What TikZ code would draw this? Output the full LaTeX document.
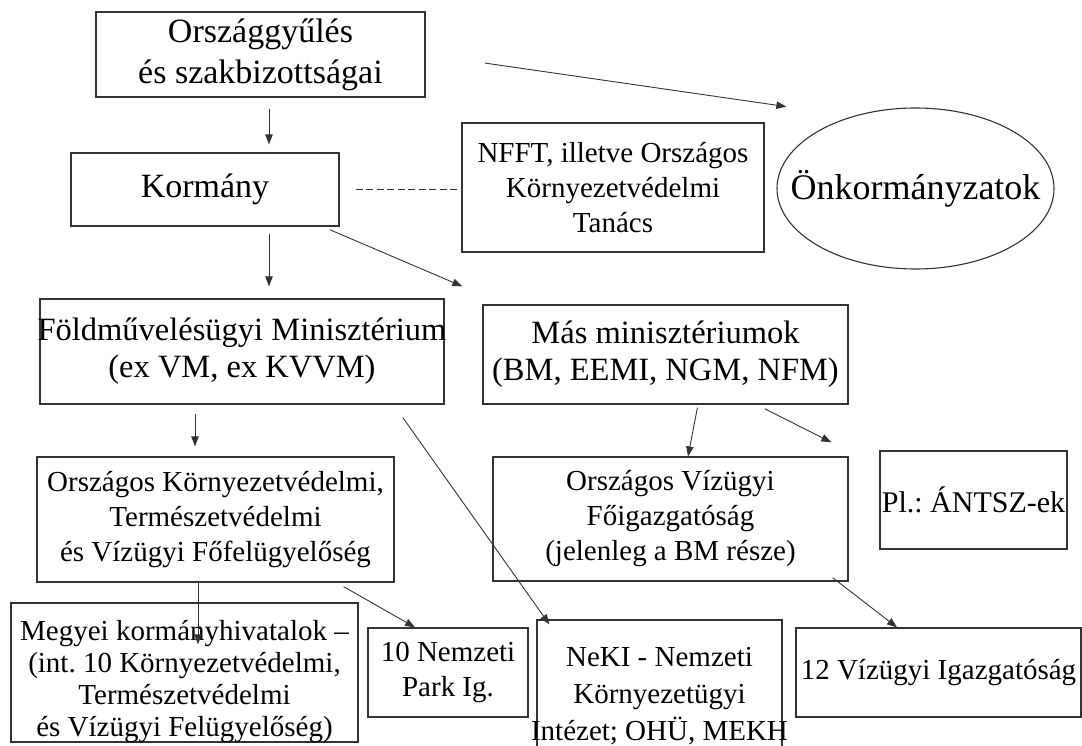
\documentclass[tikz,border=0pt]{standalone}
\usepackage{fontspec}
\setmainfont{Liberation Serif}
\usepackage{xcolor}
\usepackage{tikz}
\usetikzlibrary{positioning,arrows.meta,shapes.geometric,calc}
\definecolor{ink}{HTML}{333333}
\newcommand{\txtsize}[2]{\fontsize{#1}{#2}\selectfont}
\frenchspacing
\tikzset{
  box/.style   ={rectangle, draw=ink, line width=1.3pt, inner sep=0pt, align=center, font={\txtsize{29}{35}}},
  bigbox/.style={box, font={\txtsize{34}{41}}},
  midbox/.style={box, font={\txtsize{32.5}{37}}},
  oval/.style  ={ellipse, draw=ink, line width=1.1pt, inner sep=0pt},
  lbl/.style   ={align=center, inner sep=0pt, font={\txtsize{29}{35}}},
  edge/.style  ={-{Triangle[length=10pt,width=7.5pt]}, line width=0.9pt, draw=ink},
  tie/.style   ={dash pattern=on 7pt off 3.5pt, line width=0.9pt, draw=ink},
}

\begin{document}
\begin{tikzpicture}[x=1pt,y=-1pt]
        \useasboundingbox (0,0) rectangle (1082,746);
        \clip (0,0) rectangle (1082,746);
        \node[bigbox, minimum width=329, minimum height=85] (OGY)  at (260.5,54.5) {Országgyűlés\\és szakbizottságai};
        \node[bigbox, minimum width=268, minimum height=73] (KORM) at (205,189.5) {Kormány};
        \node[box, minimum width=302, minimum height=129]   (NFFT) at (613,187.5) {NFFT, illetve Országos\\Környezetvédelmi\\Tanács};
        \node[oval, minimum width=277, minimum height=161,
              label={[lbl, font={\txtsize{36}{40}}]center:Önkormányzatok}] (ONK) at (915.5,188.5) {};
        \node[box, minimum width=404, minimum height=105,
              label={[lbl, font={\txtsize{32.5}{37}}]center:{Földművelésügyi Minisztérium\\(ex VM, ex KVVM)}}] (FM) at (242,351.5) {};
        \node[midbox, minimum width=365, minimum height=99] (MAS)  at (665.5,354.5) {Más minisztériumok\\(BM, EEMI, NGM, NFM)};
        \node[box, minimum width=357, minimum height=125]   (OKTVF) at (215.5,519.5) {Országos Környezetvédelmi,\\Természetvédelmi\\és Vízügyi Főfelügyelőség};
        \node[box, minimum width=355, minimum height=124]   (OVF)  at (670.5,519) {Országos Vízügyi\\Főigazgatóság\\(jelenleg a BM része)};
        \node[box, minimum width=187, minimum height=98, font={\txtsize{30}{35}}] (ANTSZ) at (973.5,500) {Pl.: ÁNTSZ-ek};
        \node[box, minimum width=347, minimum height=139,
              label={[lbl, yshift=-9.5pt, font={\txtsize{29}{32}}]center:{Megyei kormányhivatalok –\\(int. 10 Környezetvédelmi,\\Természetvédelmi\\és Vízügyi Felügyelőség)}}] (MKH) at (184.5,672.5) {};
        \node[box, minimum width=160, minimum height=89]    (NPI)  at (448,672.5) {10 Nemzeti\\Park Ig.};
        \node[box, minimum width=245, minimum height=146,
              label={[lbl, yshift=-3pt, font={\txtsize{29}{37}}]center:{NeKI - Nemzeti\\Környezetügyi\\Intézet; OHÜ, MEKH}}] (NEKI) at (659.5,693) {};
        \node[box, minimum width=285, minimum height=89]    (VIG)  at (938.5,672.5) {12 Vízügyi Igazgatóság};
        \draw[edge, shorten <=11, shorten >=8] ([xshift=8.5]OGY.south) -- ([xshift=64]KORM.north);
        \draw[edge, shorten <=60, shorten >=67] (OGY.east) -- (ONK.131);
        \draw[tie, shorten <=16] (KORM.east) -- (KORM.east -| NFFT.west);
        \draw[edge, shorten <=7, shorten >=12] ([xshift=64]KORM.south) -- ([xshift=27]FM.north);
        \draw[edge, shorten <=8] ([xshift=-17]KORM.south east) -- ([shift={(-20,-18)}]MAS.north west);
        \draw[edge, shorten <=9, shorten >=10] ([xshift=-47]FM.south) -- ([xshift=-20.5]OKTVF.north);
        \draw[edge, shorten <=16] ([xshift=-51]FM.south east) -- ([shift={(13,5)}]NEKI.north west);
        \draw[edge, shorten <=3] ([xshift=32.5]MAS.south) -- ([xshift=17.5]OVF.north);
        \draw[edge, shorten <=9] ([xshift=-92]MAS.south east) -- ([shift={(-48,-8)}]ANTSZ.north west);
        \draw[edge] ([xshift=-17.5]OKTVF.south) -- ([shift={(13.5,42)}]MKH.north);
        \draw[edge, shorten <=8] ([xshift=-58]OKTVF.south east) -- ([xshift=-33]NPI.north);
        \draw[edge] ([shift={(-16,-4)}]OVF.south east) -- ([xshift=-41.5]VIG.north);
      \end{tikzpicture}
\end{document}
